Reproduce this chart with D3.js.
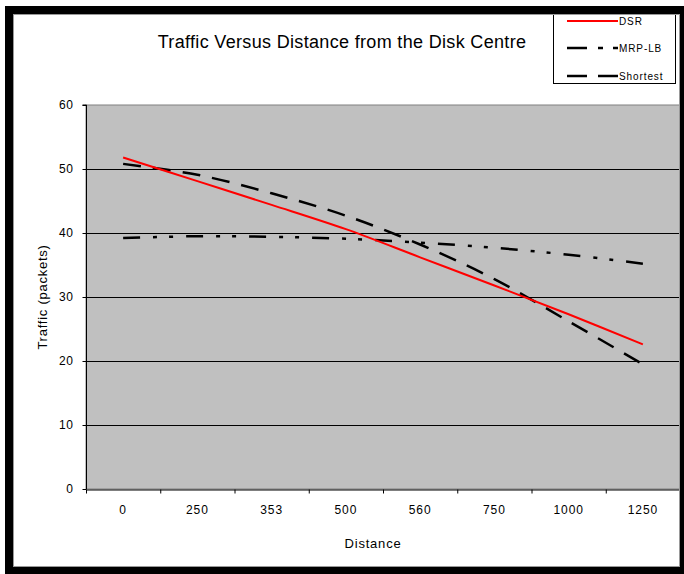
<!DOCTYPE html>
<html>
<head>
<meta charset="utf-8">
<script src="https://cdn.jsdelivr.net/npm/d3@7"></script>
<style>
  body { margin: 0; background: #fff; }
  svg { display: block; font-family: Arial, "Liberation Sans", sans-serif; }
</style>
</head>
<body>
<svg id="frame"></svg>
<script>
// data
const categories = ['0', '250', '353', '500', '560', '750', '1000', '1250'];
const dsr = [51.8, 48.1, 44.4, 40.6, 36.2, 31.8, 27.3, 22.6];
const mrpLb = [39.2, 39.5, 39.4, 39.1, 38.5, 37.7, 36.6, 35.2];
const shortest = [50.8, 49.1, 46.2, 42.7, 38.2, 32.8, 26.2, 19.5];
const yTicks = [0, 10, 20, 30, 40, 50, 60];

const width = 684;
const height = 574;
const plot = {left: 86, right: 680, top: 105, bottom: 489};

const svg = d3.select('#frame')
  .attr('width', width)
  .attr('height', height);

// scales
const xScale = d3.scaleBand()
  .domain(categories)
  .range([plot.left, plot.right])
  .padding(0);
const xEdge = d3.scaleLinear()
  .domain([0, categories.length])
  .range([plot.left, plot.right]);
const yScale = d3.scaleLinear()
  .domain([0, 60])
  .range([plot.bottom, plot.top]);

// plot area
svg.append('rect')
  .attr('x', plot.left)
  .attr('y', plot.top)
  .attr('width', plot.right - plot.left)
  .attr('height', plot.bottom - plot.top)
  .attr('fill', '#c0c0c0')
  .attr('stroke', '#808080')
  .attr('stroke-width', 1);

// grid lines
svg.append('g')
  .selectAll('line')
  .data(yTicks.filter(t => t > 0 && t < 60))
  .enter()
  .append('line')
  .attr('x1', plot.left)
  .attr('x2', plot.right)
  .attr('y1', d => yScale(d) + 0.5)
  .attr('y2', d => yScale(d) + 0.5)
  .attr('stroke', '#000')
  .attr('stroke-width', 1);

// y axis
const yAxis = d3.axisLeft(yScale).tickValues(yTicks).tickSize(4).tickPadding(9);
const gy = svg.append('g')
  .attr('transform', `translate(${plot.left + 0.5},0)`)
  .call(yAxis);
gy.selectAll('text').attr('font-size', 12).attr('fill', '#000').style('letter-spacing', '0.6px');
gy.selectAll('line, path').attr('stroke', '#000');
gy.select('.domain').attr('d', `M-4,${plot.top}H0V${plot.bottom}`);

// x axis: edge ticks + centred labels
const gxTicks = svg.append('g')
  .attr('transform', `translate(0,${plot.bottom + 0.5})`)
  .call(d3.axisBottom(xEdge).tickValues(d3.range(categories.length + 1)).tickFormat('').tickSize(4).tickSizeOuter(0));
gxTicks.selectAll('line, path').attr('stroke', '#000');

const gx = svg.append('g')
  .attr('transform', `translate(0,${plot.bottom})`)
  .call(d3.axisBottom(xScale).tickSize(0).tickPadding(16));
gx.select('.domain').remove();
gx.selectAll('text').attr('font-size', 12).attr('fill', '#000').style('letter-spacing', '0.9px');

// lines
const cx = c => xScale(c) + xScale.bandwidth() / 2;
const series = [
  {name: 'DSR', values: dsr, color: '#ff0000', w: 2, dash: null},
  {name: 'MRP-LB', values: mrpLb, color: '#000', w: 2.5, dash: '17,13,4,12,4,13'},
  {name: 'Shortest', values: shortest, color: '#000', w: 2.5, dash: '18,12'}
];

const line = d3.line()
  .x((d, i) => cx(categories[i]))
  .y(d => yScale(d))
  .curve(d3.curveCatmullRom.alpha(0));

svg.append('g')
  .selectAll('path')
  .data(series.slice().reverse())
  .enter()
  .append('path')
  .attr('d', d => line(d.values))
  .attr('fill', 'none')
  .attr('stroke', d => d.color)
  .attr('stroke-width', d => d.w)
  .attr('stroke-dasharray', d => d.dash);

// titles
svg.append('text')
  .attr('x', 342)
  .attr('y', 48)
  .attr('text-anchor', 'middle')
  .attr('font-size', 18)
  .style('letter-spacing', '0.33px')
  .text('Traffic Versus Distance from the Disk Centre');

svg.append('text')
  .attr('x', 373)
  .attr('y', 548)
  .attr('text-anchor', 'middle')
  .attr('font-size', 13)
  .style('letter-spacing', '0.8px')
  .text('Distance');

svg.append('text')
  .attr('transform', `translate(47,${(plot.top + plot.bottom) / 2}) rotate(-90)`)
  .attr('text-anchor', 'middle')
  .attr('font-size', 13)
  .style('letter-spacing', '0.75px')
  .text('Traffic (packets)');

// legend
const legend = svg.append('g');
legend.append('rect')
  .attr('x', 553.5)
  .attr('y', 8.5)
  .attr('width', 122)
  .attr('height', 75)
  .attr('fill', '#fff')
  .attr('stroke', '#000');

const legY = [21, 48, 76];
const items = legend.selectAll('.item')
  .data(series)
  .enter()
  .append('g')
  .attr('class', 'item')
  .attr('transform', (d, i) => `translate(0,${legY[i]})`);
items.append('line')
  .attr('x1', 567)
  .attr('x2', 618)
  .attr('stroke', d => d.color)
  .attr('stroke-width', d => d.w)
  .attr('stroke-dasharray', (d, i) => i === 1 ? '20,11,5,10,5,10' : (i === 2 ? '20,11,20' : null));
items.append('text')
  .attr('x', 619)
  .attr('dy', '0.35em')
  .attr('font-size', 10)
  .style('letter-spacing', '0.9px')
  .text(d => d.name);

// outer frame
svg.append('rect')
  .attr('x', 13.5)
  .attr('y', 14.5)
  .attr('width', 666)
  .attr('height', 552)
  .attr('fill', 'none')
  .attr('stroke', '#999');
svg.append('rect')
  .attr('x', 9)
  .attr('y', 10)
  .attr('width', 675)
  .attr('height', 561)
  .attr('fill', 'none')
  .attr('stroke', '#000')
  .attr('stroke-width', 8);
</script>
</body>
</html>
